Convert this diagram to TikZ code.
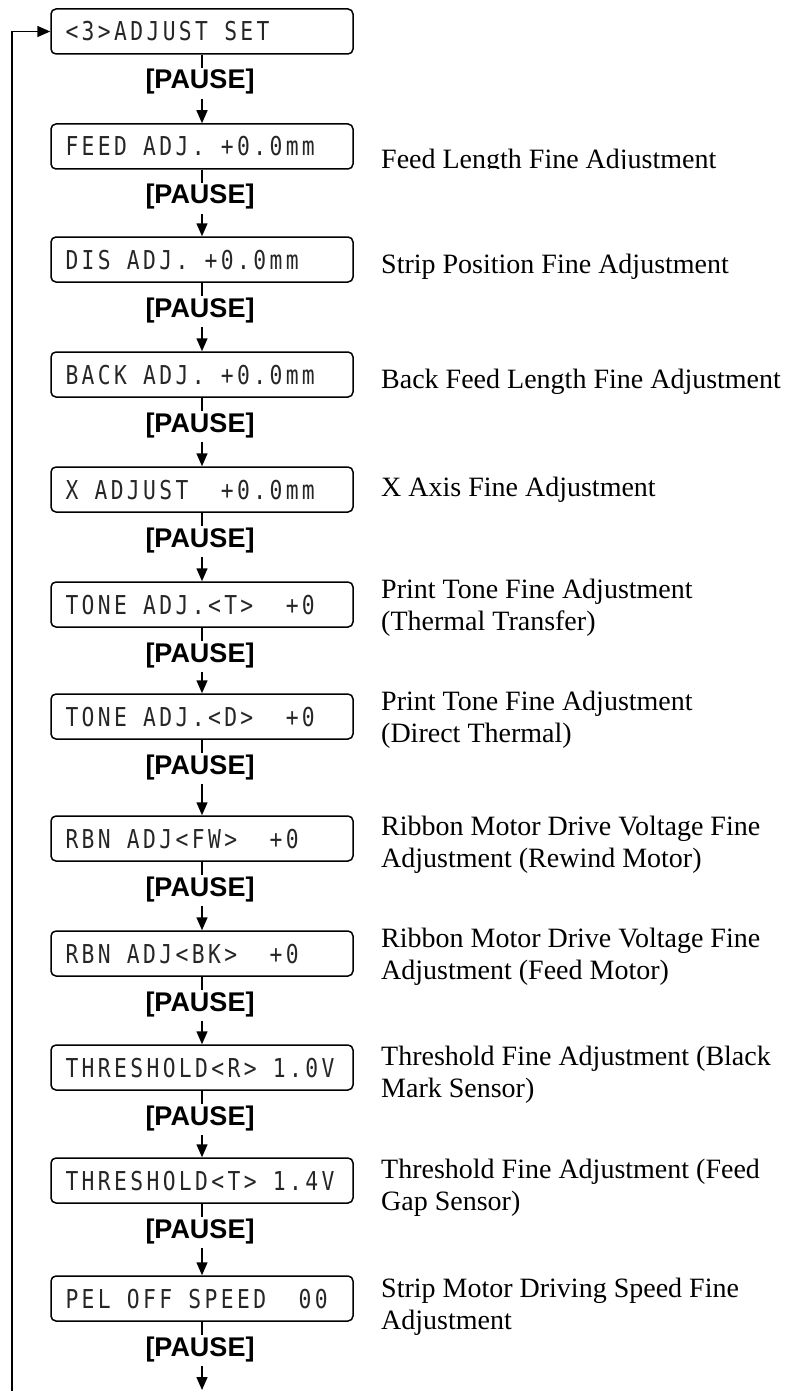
\documentclass[tikz,border=0pt]{standalone}
\usepackage{fontspec}
\setmainfont{Liberation Serif}
\newfontfamily\lcdfont[FakeStretch=0.82,LetterSpace=13]{DejaVu Sans Mono}
\newfontfamily\pausefont{Liberation Sans}
\usetikzlibrary{arrows.meta}
\newcommand\lsp{\hspace{0.624em}}
\begin{document}
\begin{tikzpicture}[x=1pt,y=-1pt,
  lcd/.style={draw, line width=1.5pt, rounded corners=5pt, minimum width=302pt,
    minimum height=45pt, inner xsep=14.5pt, inner ysep=0pt, text width=273pt,
    align=left, text height=19pt, text depth=0pt, text=black!85,
    font=\lcdfont\fontsize{26}{30}\selectfont},
  pause/.style={font=\pausefont\bfseries\fontsize{27}{30}\selectfont,
    inner xsep=0pt, inner ysep=2pt, text height=19pt, text depth=8pt, anchor=base},
  desc/.style={anchor=base west, align=left, inner sep=0pt,
    font=\fontsize{28}{32}\selectfont},
  conn/.style={line width=1.5pt},
  arr/.style={line width=1.5pt, -{Triangle[length=13pt,width=11pt]}}]
\useasboundingbox (0,0) rectangle (786,1391);

% boxes
\node[lcd] (b1)  at (202,31.5)   {<3>ADJUST\lsp SET};
\node[lcd] (b2)  at (202,146.5)  {FEED\lsp ADJ.\lsp +0.0mm};
\node[lcd] (b3)  at (202,259.5)  {DIS\lsp ADJ.\lsp +0.0mm};
\node[lcd] (b4)  at (202,374.5)  {BACK\lsp ADJ.\lsp +0.0mm};
\node[lcd] (b5)  at (202,489.5)  {X\lsp ADJUST\lsp\lsp +0.0mm};
\node[lcd] (b6)  at (202,604.5)  {TONE\lsp ADJ.<T>\lsp\lsp +0};
\node[lcd] (b7)  at (202,716.5)  {TONE\lsp ADJ.<D>\lsp\lsp +0};
\node[lcd] (b8)  at (202,838.5)  {RBN\lsp ADJ<FW>\lsp\lsp +0};
\node[lcd] (b9)  at (202,953.5)  {RBN\lsp ADJ<BK>\lsp\lsp +0};
\node[lcd] (b10) at (202,1067.5) {THRESHOLD<R>\lsp 1.0V};
\node[lcd] (b11) at (202,1180.5) {THRESHOLD<T>\lsp 1.4V};
\node[lcd] (b12) at (202,1298.5) {PEL\lsp OFF\lsp SPEED\lsp\lsp 00};

% pause labels
\node[pause] (p1)  at (200,89)   {[PAUSE]};
\node[pause] (p2)  at (200,204)  {[PAUSE]};
\node[pause] (p3)  at (200,317)  {[PAUSE]};
\node[pause] (p4)  at (200,432)  {[PAUSE]};
\node[pause] (p5)  at (200,547)  {[PAUSE]};
\node[pause] (p6)  at (200,662)  {[PAUSE]};
\node[pause] (p7)  at (200,774)  {[PAUSE]};
\node[pause] (p8)  at (200,896)  {[PAUSE]};
\node[pause] (p9)  at (200,1011) {[PAUSE]};
\node[pause] (p10) at (200,1125) {[PAUSE]};
\node[pause] (p11) at (200,1238) {[PAUSE]};
\node[pause] (p12) at (200,1356) {[PAUSE]};

% connectors
\foreach \i/\j in {1/2,2/3,3/4,4/5,5/6,6/7,7/8,8/9,9/10,10/11,11/12}{
  \draw[conn] (b\i.south) -- (b\i.south |- p\i.north);
  \draw[arr] (b\i.south |- p\i.south) -- (b\j.north);
}
\draw[conn] (b12.south) -- (b12.south |- p12.north);
\coordinate (endpt) at (202,1390);
\draw[arr] (b12.south |- p12.south) -- (endpt);

% loop back
\coordinate (loopstart) at (12,1391);
\draw[arr] (loopstart) |- (b1.west);

% descriptions (base = baseline of last line)
\begin{scope}
  \clip (370,100) rectangle (786,169);
  \node[desc] (d2) at (381,168) {Feed Length Fine Adjustment};
\end{scope}
\node[desc] (d3)  at (381,273)  {Strip Position Fine Adjustment};
\node[desc] (d4)  at (381,388)  {Back Feed Length Fine Adjustment};
\node[desc] (d5)  at (381,496)  {X Axis Fine Adjustment};
\node[desc] (d6)  at (381,630)  {Print Tone Fine Adjustment\\(Thermal Transfer)};
\node[desc] (d7)  at (381,742)  {Print Tone Fine Adjustment\\(Direct Thermal)};
\node[desc] (d8)  at (381,867)  {Ribbon Motor Drive Voltage Fine\\Adjustment (Rewind Motor)};
\node[desc] (d9)  at (381,979)  {Ribbon Motor Drive Voltage Fine\\Adjustment (Feed Motor)};
\node[desc] (d10) at (381,1097) {Threshold Fine Adjustment (Black\\Mark Sensor)};
\node[desc] (d11) at (381,1210) {Threshold Fine Adjustment (Feed\\Gap Sensor)};
\node[desc] (d12) at (381,1329) {Strip Motor Driving Speed Fine\\Adjustment};
\end{tikzpicture}
\end{document}
